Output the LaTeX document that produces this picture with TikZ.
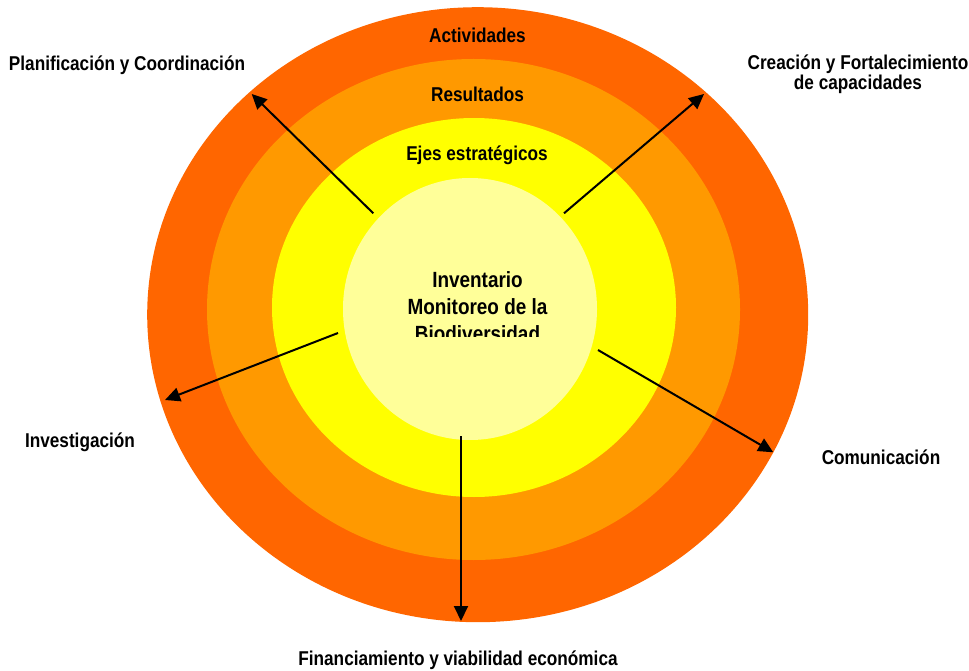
\documentclass[tikz,border=0pt]{standalone}
\usepackage{fontspec}
\setmainfont{Liberation Sans}[FakeStretch=0.86]
\usetikzlibrary{arrows.meta}
\definecolor{ringA}{HTML}{FF6600}
\definecolor{ringB}{HTML}{FF9900}
\definecolor{ringC}{HTML}{FFFF00}
\definecolor{core}{HTML}{FFFF99}
\begin{document}
\begin{tikzpicture}[
			x=1pt, y=-1pt,
			lbl/.style = {font=\bfseries\fontsize{20}{18.6}\selectfont, inner sep=0pt, anchor=base, align=center},
			ctr/.style = {font=\bfseries\fontsize{22}{27}\selectfont, inner sep=0pt, anchor=base, align=center},
			arr/.style = {line width=2pt, -{Triangle[length=15pt, width=14pt]}}
		]
		\useasboundingbox (0,0) rectangle (969,671);
		% Draw the rings.
		\fill[ringA] (477.7,314.7) ellipse [x radius=330.5, y radius=307.5];
		\fill[ringB] (473.5,309.5) ellipse [x radius=266.5, y radius=250.5];
		\fill[ringC] (474,307.5) ellipse [x radius=202, y radius=189.5];
		\fill[core] (470,309) ellipse [x radius=127, y radius=131];
		% Ring labels.
		\node[lbl] (act) at (477.5,43) {Actividades};
		\node[lbl] (res) at (477.5,101.7) {Resultados};
		\node[lbl] (ejes) at (477,161) {Ejes estratégicos};
		% Centre text, cut at the bottom (base = last line).
		\begin{scope}
			\clip (330,180) rectangle (620,336);
			\node[ctr] (inv) at (477.5,341) {Inventario\\Monitoreo de la\\Biodiversidad};
		\end{scope}
		% Outer labels.
		\node[lbl] (plan) at (127,71) {Planificación y Coordinación};
		\node[lbl] (crea) at (858,89.3) {Creación y Fortalecimiento\\de capacidades};
		\node[lbl] (inve) at (80,447.3) {Investigación};
		\node[lbl] (comu) at (881,464) {Comunicación};
		\node[lbl] (fina) at (458,665) {Financiamiento y viabilidad económica};
		% Arrow ends.
		\coordinate (s1) at (373.3,213.3);
		\coordinate (t1) at (251.7,94);
		\coordinate (s2) at (564,213.3);
		\coordinate (t2) at (704,94);
		\coordinate (s3) at (338,333);
		\coordinate (t3) at (165,400);
		\coordinate (s4) at (598,350);
		\coordinate (t4) at (773.3,452.3);
		\coordinate (s5) at (461,436);
		\coordinate (t5) at (461,621);
		% Draw the arrows.
		\draw[arr] (s1) -- (t1);
		\draw[arr] (s2) -- (t2);
		\draw[arr] (s3) -- (t3);
		\draw[arr] (s4) -- (t4);
		\draw[arr] (s5) -- (t5);
	\end{tikzpicture}
\end{document}
